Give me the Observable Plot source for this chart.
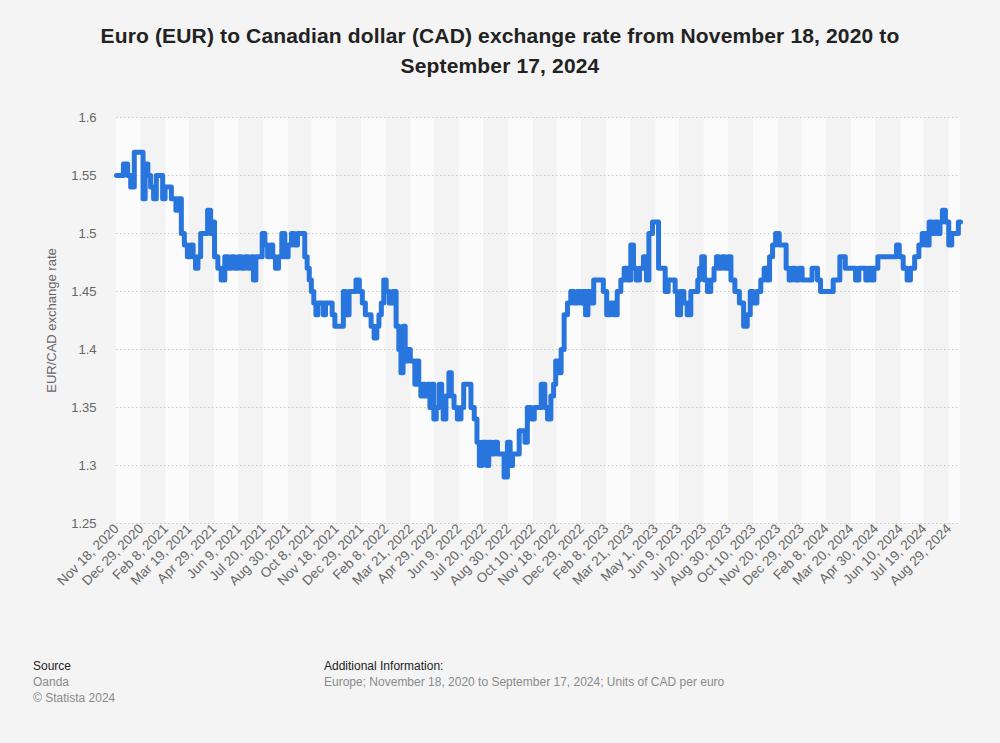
<!DOCTYPE html>
<html><head><meta charset="utf-8">
<script src="https://cdn.jsdelivr.net/npm/d3@7"></script>
<script src="https://cdn.jsdelivr.net/npm/@observablehq/plot@0.6"></script>
<style>
body{margin:0;background:#f4f4f4;font-family:"Liberation Sans",Arial,sans-serif;}
#wrap{position:relative;width:1000px;height:743px;overflow:hidden;}
#chart{position:absolute;top:0;left:0;}
#title{position:absolute;top:21px;left:0;width:1000px;text-align:center;font-weight:bold;font-size:21px;line-height:30px;color:#222;letter-spacing:0.15px;}
.foot{position:absolute;font-size:12px;line-height:16px;}
.foot .h{color:#222;}
.foot .g{color:#8a8a8a;}
</style>
</head><body>
<div id="wrap">
<div id="chart"></div>
<div id="title">Euro (EUR) to Canadian dollar (CAD) exchange rate from November 18, 2020 to<br>September 17, 2024</div>
<div class="foot" style="left:33px;top:658px;"><div class="h">Source</div><div class="g">Oanda</div><div class="g">© Statista 2024</div></div>
<div class="foot" style="left:324px;top:658px;"><div class="h">Additional Information:</div><div class="g">Europe; November 18, 2020 to September 17, 2024; Units of CAD per euro</div></div>
</div>
<script>
const dates = [
"2020-11-18","2020-11-28","2020-12-01","2020-12-05","2020-12-08","2020-12-15","2020-12-20","2020-12-31",
"2021-01-02","2021-01-07","2021-01-11","2021-01-16","2021-01-21","2021-01-25","2021-02-01","2021-02-04",
"2021-02-09","2021-02-15","2021-02-19","2021-02-23","2021-02-26","2021-03-03","2021-03-08","2021-03-13",
"2021-03-18","2021-03-23","2021-03-27","2021-03-31","2021-04-04","2021-04-09","2021-04-15","2021-04-21",
"2021-04-25","2021-04-27","2021-05-02","2021-05-08","2021-05-13","2021-05-20","2021-05-25","2021-05-30",
"2021-06-05","2021-06-11","2021-06-16","2021-06-22","2021-06-27","2021-07-02","2021-07-04","2021-07-10",
"2021-07-15","2021-07-20","2021-07-24","2021-07-29","2021-08-02","2021-08-06","2021-08-11","2021-08-16",
"2021-08-22","2021-08-26","2021-09-02","2021-09-06","2021-09-11","2021-09-17","2021-09-24","2021-09-28",
"2021-10-02","2021-10-05","2021-10-09","2021-10-13","2021-10-16","2021-10-20","2021-10-26","2021-10-28",
"2021-11-02","2021-11-08","2021-11-13","2021-11-17","2021-11-22","2021-11-28","2021-11-30","2021-12-06",
"2021-12-11","2021-12-17","2021-12-23","2021-12-28","2022-01-02","2022-01-07","2022-01-12","2022-01-16",
"2022-01-22","2022-01-25","2022-01-29","2022-02-02","2022-02-06","2022-02-10","2022-02-16","2022-02-22",
"2022-02-27","2022-03-03","2022-03-06","2022-03-10","2022-03-13","2022-03-18","2022-03-22","2022-03-26",
"2022-03-29","2022-04-01","2022-04-05","2022-04-08","2022-04-11","2022-04-15","2022-04-20","2022-04-23",
"2022-04-26","2022-04-30","2022-05-04","2022-05-10","2022-05-12","2022-05-15","2022-05-21","2022-05-25",
"2022-05-29","2022-06-03","2022-06-09","2022-06-15","2022-06-18","2022-06-26","2022-07-01","2022-07-07",
"2022-07-10","2022-07-15","2022-07-19","2022-07-23","2022-07-26","2022-07-30","2022-08-03","2022-08-09",
"2022-08-14","2022-08-20","2022-08-25","2022-08-31","2022-09-03","2022-09-08","2022-09-14","2022-09-19",
"2022-09-25","2022-09-27","2022-10-03","2022-10-09","2022-10-14","2022-10-19","2022-10-27","2022-10-31",
"2022-11-05","2022-11-11","2022-11-14","2022-11-18","2022-11-23","2022-11-27","2022-12-03","2022-12-08",
"2022-12-14","2022-12-19","2022-12-25","2022-12-30","2023-01-02","2023-01-07","2023-01-10","2023-01-16",
"2023-01-20","2023-01-27","2023-02-01","2023-02-05","2023-02-12","2023-02-18","2023-02-23","2023-03-01",
"2023-03-07","2023-03-12","2023-03-18","2023-03-23","2023-03-27","2023-04-01","2023-04-07","2023-04-14",
"2023-04-17","2023-04-22","2023-04-29","2023-05-04","2023-05-07","2023-05-14","2023-05-19","2023-05-24",
"2023-05-31","2023-06-04","2023-06-08","2023-06-14","2023-06-19","2023-06-25","2023-07-01","2023-07-08",
"2023-07-11","2023-07-14","2023-07-18","2023-07-23","2023-07-28","2023-08-03","2023-08-08","2023-08-11",
"2023-08-16","2023-08-21","2023-08-26","2023-08-31","2023-09-05","2023-09-13","2023-09-20","2023-09-27",
"2023-10-02","2023-10-07","2023-10-12","2023-10-19","2023-10-25","2023-10-30","2023-11-03","2023-11-08",
"2023-11-13","2023-11-18","2023-11-25","2023-11-30","2023-12-06","2023-12-10","2023-12-16","2023-12-21",
"2023-12-27","2024-01-01","2024-01-13","2024-01-17","2024-01-22","2024-01-26","2024-02-01","2024-02-17",
"2024-02-21","2024-02-28","2024-03-03","2024-03-08","2024-03-12","2024-03-24","2024-03-30","2024-04-04",
"2024-04-11","2024-04-15","2024-04-20","2024-04-24","2024-04-29","2024-05-07","2024-06-01","2024-06-05",
"2024-06-10","2024-06-18","2024-06-23","2024-06-29","2024-07-07","2024-07-13","2024-07-18","2024-07-24",
"2024-07-30","2024-08-04","2024-08-08","2024-08-12","2024-08-16","2024-08-20","2024-08-26","2024-08-31",
"2024-09-05","2024-09-12","2024-09-15","2024-09-17"
];
const rates = [
1.55,1.55,1.56,1.56,1.55,1.54,1.57,1.57,
1.53,1.56,1.55,1.54,1.53,1.55,1.55,1.53,
1.54,1.54,1.53,1.53,1.52,1.53,1.50,1.49,
1.48,1.49,1.48,1.47,1.48,1.50,1.50,1.52,
1.50,1.51,1.48,1.47,1.46,1.48,1.47,1.48,
1.47,1.48,1.47,1.48,1.47,1.48,1.46,1.48,
1.48,1.50,1.49,1.48,1.49,1.48,1.47,1.48,
1.50,1.48,1.49,1.50,1.49,1.50,1.50,1.48,
1.47,1.46,1.45,1.44,1.43,1.44,1.44,1.43,
1.44,1.44,1.43,1.42,1.42,1.42,1.45,1.43,
1.45,1.45,1.46,1.45,1.44,1.43,1.43,1.42,
1.41,1.42,1.43,1.44,1.46,1.45,1.44,1.45,
1.42,1.40,1.38,1.42,1.39,1.40,1.39,1.39,
1.37,1.39,1.37,1.36,1.37,1.36,1.37,1.35,
1.37,1.34,1.35,1.37,1.35,1.34,1.36,1.38,
1.36,1.35,1.34,1.35,1.37,1.37,1.35,1.34,
1.32,1.30,1.32,1.32,1.30,1.32,1.31,1.32,
1.31,1.31,1.29,1.32,1.30,1.31,1.31,1.33,
1.33,1.32,1.35,1.34,1.35,1.35,1.37,1.35,
1.34,1.36,1.37,1.39,1.38,1.40,1.43,1.44,
1.45,1.44,1.45,1.44,1.45,1.43,1.45,1.44,
1.46,1.46,1.46,1.45,1.43,1.44,1.43,1.45,
1.46,1.47,1.46,1.49,1.47,1.46,1.47,1.48,
1.46,1.50,1.51,1.51,1.47,1.47,1.45,1.46,
1.46,1.45,1.43,1.45,1.44,1.43,1.45,1.45,
1.46,1.47,1.48,1.46,1.45,1.46,1.47,1.48,
1.47,1.48,1.47,1.48,1.46,1.45,1.44,1.42,
1.43,1.45,1.44,1.45,1.46,1.47,1.46,1.48,
1.49,1.50,1.49,1.49,1.47,1.46,1.47,1.46,
1.47,1.46,1.46,1.47,1.47,1.46,1.45,1.45,
1.46,1.46,1.48,1.48,1.47,1.47,1.46,1.47,
1.47,1.46,1.47,1.46,1.47,1.48,1.48,1.49,
1.48,1.47,1.46,1.47,1.48,1.49,1.50,1.49,
1.51,1.50,1.51,1.50,1.51,1.52,1.51,1.49,
1.50,1.50,1.51,1.51
];
const tickLabels = [
"2020-11-18","2020-12-29","2021-02-08","2021-03-19","2021-04-29","2021-06-09","2021-07-20","2021-08-30",
"2021-10-08","2021-11-18","2021-12-29","2022-02-08","2022-03-21","2022-04-29","2022-06-09","2022-07-20",
"2022-08-30","2022-10-10","2022-11-18","2022-12-29","2023-02-08","2023-03-21","2023-05-01","2023-06-09",
"2023-07-20","2023-08-30","2023-10-10","2023-11-20","2023-12-29","2024-02-08","2024-03-20","2024-04-30",
"2024-06-10","2024-07-19","2024-08-29"
];
const yTicks = [1.25, 1.3, 1.35, 1.4, 1.45, 1.5, 1.55, 1.6];
const startDate = "2020-11-18", endDate = "2024-09-17";

const rows = dates.map((d, i) => ({date: new Date(d), value: rates[i]}));
const tickDates = tickLabels.map(d => new Date(d));
const bandEdges = tickDates.concat([new Date(endDate)]);
const bands = d3.range(bandEdges.length - 1).map(i => ({start: bandEdges[i], end: bandEdges[i + 1], k: i % 2}));
const fmt = d3.utcFormat("%b %-d, %Y");

const chart = Plot.plot({
  width: 1000,
  height: 650,
  marginTop: 117,
  marginBottom: 127,
  marginLeft: 116,
  marginRight: 40,
  style: {background: "transparent", fontFamily: "'Liberation Sans', Arial, sans-serif", fontSize: "13px", color: "#666"},
  x: {type: "utc", domain: [new Date(startDate), new Date(endDate)]},
  y: {domain: [1.25, 1.6]},
  marks: [
    Plot.rect(bands, {x1: "start", x2: "end", y1: 1.25, y2: 1.6, fill: d => d.k ? "#f3f3f3" : "#fbfbfb"}),
    Plot.ruleY(yTicks, {stroke: "#c9c9c9", strokeDasharray: "1.5,2.5", strokeWidth: 1}),
    Plot.axisY({ticks: yTicks, tickSize: 0, tickPadding: 20, tickFormat: d => String(d), label: "EUR/CAD exchange rate", labelAnchor: "center", labelArrow: "none", labelOffset: 70, fontSize: 13}),
    Plot.axisX({ticks: tickDates, tickSize: 0, tickPadding: 3, tickRotate: -45, tickFormat: fmt, label: null, fontSize: 13.5}),
    Plot.line(rows, {x: "date", y: "value", curve: "step", stroke: "#2876dd", strokeWidth: 5, strokeLinejoin: "round", strokeLinecap: "round"})
  ]
});
document.getElementById("chart").appendChild(chart);
</script>
</body></html>
